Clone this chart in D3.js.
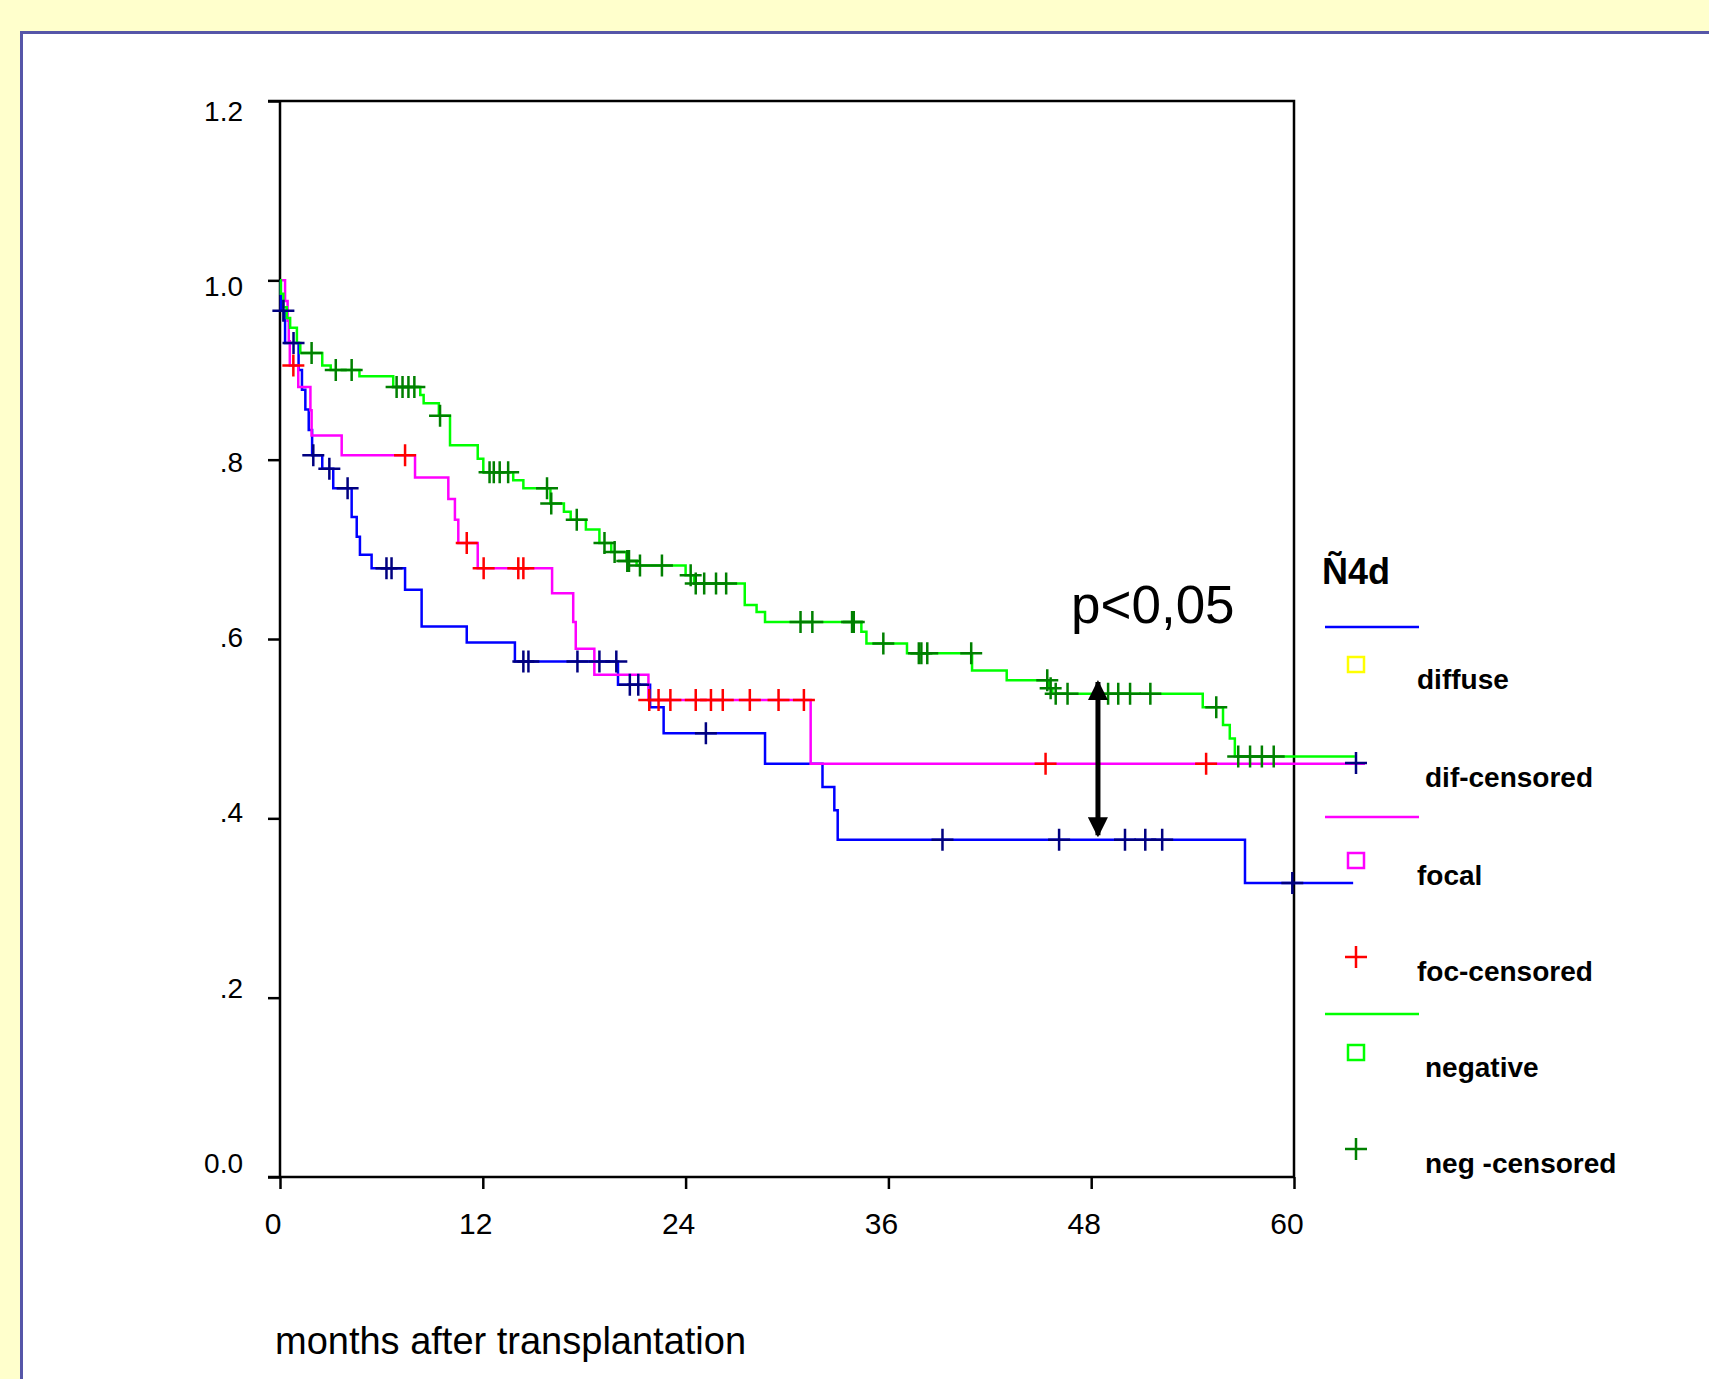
<!DOCTYPE html>
<html>
<head>
<meta charset="utf-8">
<script src="https://cdn.jsdelivr.net/npm/d3@7"></script>
<style>
  html, body { margin: 0; padding: 0; background: #ffffcc; }
  svg { display: block; }
  text { font-family: "Liberation Sans", Arial, sans-serif; fill: #000; }
</style>
</head>
<body>
<svg id="chart" width="1709" height="1379"></svg>
<script>
// axis ticks
const xTicks = [0, 12, 24, 36, 48, 60];
const yTicks = [0, 0.2, 0.4, 0.6, 0.8, 1.0, 1.2];
const yTickLabels = ["0.0", ".2", ".4", ".6", ".8", "1.0", "1.2"];

// Kaplan-Meier steps [month, survival]
const diffuseSteps = [[0, 1.0], [0.05, 0.966], [0.3, 0.93], [1.1, 0.9], [1.3, 0.878], [1.5, 0.856],
  [1.7, 0.833], [1.9, 0.805], [2.5, 0.79], [3.15, 0.768], [4.24, 0.736], [4.54, 0.714], [4.73, 0.694],
  [5.42, 0.679], [7.4, 0.655], [8.38, 0.614], [11.05, 0.596], [13.9, 0.575], [20.0, 0.549], [21.9, 0.524],
  [22.7, 0.495], [28.7, 0.461], [32.1, 0.435], [32.8, 0.409], [33.0, 0.376], [57.1, 0.328]];
const diffuseEnd = 63.5;
const diffuseCensored = [0.2, 0.8, 1.97, 2.92, 4.0, 6.3, 6.6, 14.4, 14.7, 17.6, 18.9, 19.9, 20.7, 21.2,
  25.2, 39.2, 46.1, 50.0, 51.2, 52.2, 59.9];

const focalSteps = [[0, 1.0], [0.3, 0.977], [0.45, 0.955], [0.52, 0.932], [0.58, 0.905], [1.08, 0.881],
  [1.8, 0.855], [1.87, 0.827], [3.65, 0.805], [7.99, 0.78], [9.96, 0.756], [10.35, 0.733], [10.55, 0.707],
  [11.7, 0.679], [16.1, 0.651], [17.35, 0.619], [17.5, 0.589], [18.6, 0.56], [21.8, 0.532], [31.4, 0.461]];
const focalEnd = 64.2;
const focalCensored = [0.79, 7.4, 11.05, 12.05, 14.1, 14.4, 21.85, 22.4, 23.1, 24.6, 25.5, 26.2, 27.8,
  29.5, 31.0, 45.3, 54.8];

const negativeSteps = [[0, 1.0], [0.05, 0.985], [0.2, 0.97], [0.4, 0.958], [0.6, 0.947], [1.0, 0.93],
  [1.2, 0.919], [2.5, 0.905], [3.0, 0.9], [4.7, 0.893], [6.7, 0.881], [8.3, 0.872], [8.5, 0.863],
  [9.4, 0.849], [10.06, 0.816], [11.7, 0.801], [12.03, 0.786], [13.8, 0.777], [14.4, 0.768], [16.0, 0.751],
  [16.8, 0.742], [17.2, 0.733], [18.1, 0.722], [18.9, 0.707], [19.6, 0.697], [20.5, 0.687], [21.1, 0.682],
  [24.0, 0.671], [24.5, 0.662], [27.5, 0.638], [28.2, 0.63], [28.7, 0.619], [34.4, 0.608], [34.7, 0.595],
  [37.1, 0.584], [40.95, 0.565], [43.0, 0.554], [45.5, 0.545], [45.7, 0.539], [54.6, 0.524], [55.8, 0.504],
  [56.2, 0.489], [56.5, 0.469]];
const negativeEnd = 63.6;
const negativeCensored = [1.87, 3.3, 4.24, 6.9, 7.25, 7.6, 7.95, 9.47, 12.4, 12.65, 13.0, 13.5, 15.8,
  16.05, 17.56, 19.2, 19.8, 20.55, 20.65, 21.3, 22.6, 24.3, 24.6, 25.1, 25.8, 26.4, 30.8, 31.5, 33.85,
  33.95, 35.7, 37.8, 37.95, 38.3, 40.9, 45.4, 45.6, 45.9, 46.6, 49.0, 49.6, 50.3, 51.5, 55.4, 56.7, 57.4,
  58.1, 58.8];

// p-value arrow [month, from, to]
const arrowMonth = 48.4;
const arrowRange = [0.552, 0.381];
const pText = "p<0,05";

const legendTitle = "Ñ4d";
const legendLabels = ["diffuse", "dif-censored", "focal", "foc-censored", "negative", "neg -censored"];

const groups = [
  {steps: diffuseSteps, end: diffuseEnd, censored: diffuseCensored, line: "#0000ff", mark: "#000080"},
  {steps: focalSteps, end: focalEnd, censored: focalCensored, line: "#ff00ff", mark: "#ff0000"},
  {steps: negativeSteps, end: negativeEnd, censored: negativeCensored, line: "#00ff00", mark: "#008000"}
];
const squareColors = ["#ffff00", "#ff00ff", "#00ff00"];

const svg = d3.select("#chart");
const chart = {left: 280, right: 1294, top: 101, bottom: 1177, tick: 12};

const x = d3.scaleLinear().domain([0, 60]).range([chart.left, chart.right]);
const y = d3.scaleLinear().domain([0, 1.2]).range([chart.bottom, chart.top]);
// the printed y labels drift a little against their ticks
const yLabel = d3.scaleLinear().domain([0, 1.2]).range([1163, 111]);

// page frame
svg.append("rect").attr("width", 1709).attr("height", 1379).attr("fill", "#ffffcc");
svg.append("rect")
    .attr("x", 21.5).attr("y", 32.5).attr("width", 1720).attr("height", 1400)
    .attr("fill", "#fff").attr("stroke", "#5656a8").attr("stroke-width", 3);

// axes
const yAxis = d3.axisLeft(y).tickValues(yTicks).tickSize(chart.tick).tickFormat("");
svg.append("g").attr("transform", "translate(" + chart.left + ",0)").call(yAxis)
    .call(g => g.selectAll("line,path").attr("stroke", "#000").attr("stroke-width", 2.5))
    .call(g => g.select(".domain").attr("d", "M0," + chart.top + "V" + chart.bottom));
const xAxis = d3.axisBottom(x).tickValues(xTicks).tickSize(chart.tick).tickFormat("");
svg.append("g").attr("transform", "translate(0," + chart.bottom + ")").call(xAxis)
    .call(g => g.selectAll("line,path").attr("stroke", "#000").attr("stroke-width", 2.5))
    .call(g => g.select(".domain").attr("d", "M" + (chart.left - chart.tick) + ",0H" + chart.right));
// top and right frame of the plot
svg.append("path")
    .attr("d", "M" + (chart.left - chart.tick) + "," + chart.top + "H" + chart.right + "V" + chart.bottom)
    .attr("fill", "none").attr("stroke", "#000").attr("stroke-width", 2.5);

svg.append("g").selectAll("text").data(yTicks).join("text")
    .attr("x", 243).attr("y", d => yLabel(d) + 10)
    .attr("text-anchor", "end").attr("font-size", 28)
    .text((d, i) => yTickLabels[i]);
svg.append("g").selectAll("text").data(xTicks).join("text")
    .attr("x", d => x(d) - 7).attr("y", 1234)
    .attr("text-anchor", "middle").attr("font-size", 30)
    .text(d => d);

svg.append("text").attr("x", 275).attr("y", 1354).attr("font-size", 38)
    .text("months after transplantation");

// survival curves
const stepValue = (steps, t) => {
  let v = steps[0][1];
  for (const s of steps) { if (s[0] <= t) v = s[1]; }
  return v;
};
const line = d3.line().x(d => x(d[0])).y(d => y(d[1])).curve(d3.curveStepAfter);
const crossPath = (cx, cy, r) => "M" + (cx - r) + "," + cy + "H" + (cx + r) + "M" + cx + "," + (cy - r) + "V" + (cy + r);

groups.forEach(g => {
  const pts = g.steps.concat([[g.end, g.steps[g.steps.length - 1][1]]]);
  svg.append("path").attr("d", line(pts))
      .attr("fill", "none").attr("stroke", g.line).attr("stroke-width", 2.5);
});
groups.forEach(g => {
  svg.append("g").selectAll("path").data(g.censored).join("path")
      .attr("d", t => crossPath(x(t), y(stepValue(g.steps, t)), 11))
      .attr("stroke", g.mark).attr("stroke-width", 2.5).attr("fill", "none");
});

// p-value annotation
const defs = svg.append("defs");
defs.append("marker").attr("id", "head").attr("viewBox", "0 0 10 10")
    .attr("refX", 9).attr("refY", 5).attr("markerWidth", 4).attr("markerHeight", 4)
    .attr("markerUnits", "strokeWidth").attr("orient", "auto-start-reverse")
    .append("path").attr("d", "M0,0L10,5L0,10Z").attr("fill", "#000");
svg.append("line")
    .attr("x1", x(arrowMonth)).attr("x2", x(arrowMonth))
    .attr("y1", y(arrowRange[0])).attr("y2", y(arrowRange[1]))
    .attr("stroke", "#000").attr("stroke-width", 5)
    .attr("marker-start", "url(#head)").attr("marker-end", "url(#head)");
svg.append("text").attr("x", 1071).attr("y", 623).attr("font-size", 53).text(pText);

// legend
const legend = svg.append("g");
legend.append("text").attr("x", 1322).attr("y", 584).attr("font-size", 36).attr("font-weight", "bold")
    .text(legendTitle);
const lineY = [627, 817, 1014];
const symY = [665, 763, 861, 957, 1053, 1149];
const labelX = [1417, 1425, 1417, 1417, 1425, 1425];
groups.forEach((g, i) => {
  legend.append("line").attr("x1", 1325).attr("x2", 1419).attr("y1", lineY[i]).attr("y2", lineY[i])
      .attr("stroke", g.line).attr("stroke-width", 2.5);
  legend.append("rect").attr("x", 1348).attr("y", symY[i * 2] - 8).attr("width", 16).attr("height", 15)
      .attr("fill", "none").attr("stroke", squareColors[i]).attr("stroke-width", 2.5);
  legend.append("path").attr("d", crossPath(1356, symY[i * 2 + 1], 11))
      .attr("stroke", g.mark).attr("stroke-width", 2.5);
});
legend.selectAll("text.lab").data(legendLabels).join("text").attr("class", "lab")
    .attr("x", (d, i) => labelX[i]).attr("y", (d, i) => symY[i] + 24)
    .attr("font-size", 28).attr("font-weight", "bold")
    .text(d => d);
</script>
</body>
</html>
